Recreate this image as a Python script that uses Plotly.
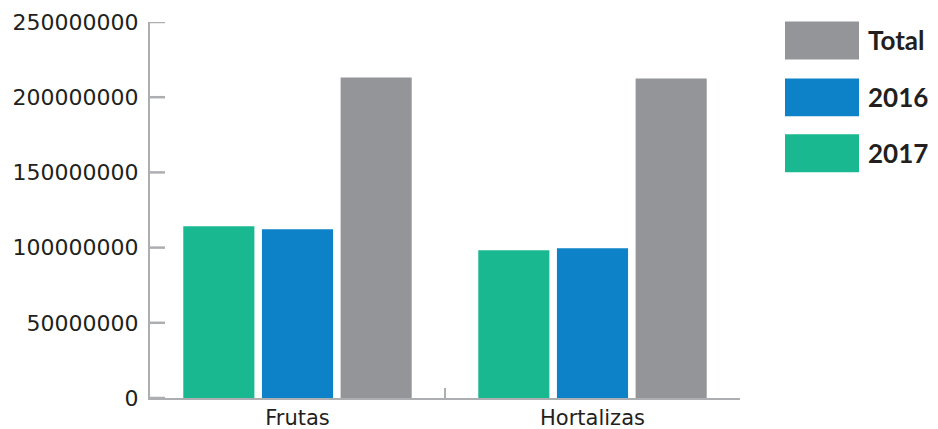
import plotly.graph_objects as go

categories = ["Frutas", "Hortalizas"]
series_names = ["2017", "2016", "Total"]
values_2017 = [114200000, 98300000]
values_2016 = [112200000, 99600000]
values_total = [213100000, 212500000]
series_colors = ["#19B890", "#0D82C8", "#939598"]
y_tick_values = [0, 50000000, 100000000, 150000000, 200000000, 250000000]

W, H = 938, 429
L, R, T, B = 150, 198, 21.5, 31
pw, ph = W - L - R, H - T - B

fig = go.Figure()
for name, vals, col in zip(series_names, [values_2017, values_2016, values_total], series_colors):
    fig.add_trace(go.Bar(name=name, x=categories, y=vals, marker=dict(color=col, line=dict(width=0)),
                         showlegend=False))

axis_col = "#ADAEB1"
fig.update_layout(
    width=W, height=H,
    margin=dict(l=L, r=R, t=T, b=B, pad=0, autoexpand=False),
    paper_bgcolor="white", plot_bgcolor="white",
    barmode="group", bargap=0.2, bargroupgap=0.096,
    font=dict(family="DejaVu Sans", size=22, color="#231F20"),
    xaxis=dict(showline=True, linecolor=axis_col, linewidth=2, ticks="inside", tickson="boundaries",
               ticklen=10, tickwidth=2, tickcolor=axis_col, showgrid=False, zeroline=False,
               automargin=False,
               tickfont=dict(family="DejaVu Sans", size=21, color="#231F20")),
    yaxis=dict(range=[0, 250000000], tickmode="array", tickvals=y_tick_values,
               ticktext=[str(v) for v in y_tick_values],
               showline=True, linecolor=axis_col, linewidth=2, ticks="", ticklabelstandoff=5,
               showgrid=False, zeroline=False, automargin=False,
               tickfont=dict(family="DejaVu Sans", size=22, color="#231F20")),
)

def px_x(x):
    return (x - L) / pw
def px_y(y):
    return (H - B - y) / ph

# y-axis tick marks pointing into the plot
for tv in y_tick_values:
    fig.add_shape(type="line", xref="paper", yref="y", x0=0, x1=px_x(165), y0=tv, y1=tv,
                  line=dict(color=axis_col, width=2.5), layer="above")

# custom legend (large swatches)
legend_items = [("Total", series_colors[2]), ("2016", series_colors[1]), ("2017", series_colors[0])]
top_px = [21, 78, 134]
sw_h = 38
for (label, col), tp in zip(legend_items, top_px):
    fig.add_shape(type="rect", xref="paper", yref="paper", x0=px_x(785), x1=px_x(859),
                  y0=px_y(tp + sw_h), y1=px_y(tp), fillcolor=col, line=dict(width=0))
    fig.add_annotation(xref="paper", yref="paper", x=px_x(866), y=px_y(tp + sw_h / 2),
                       xanchor="left", yanchor="middle", text="<b>" + label + "</b>", showarrow=False,
                       font=dict(family="Lato", size=26, color="#231F20"))

fig.write_html("out.html")
